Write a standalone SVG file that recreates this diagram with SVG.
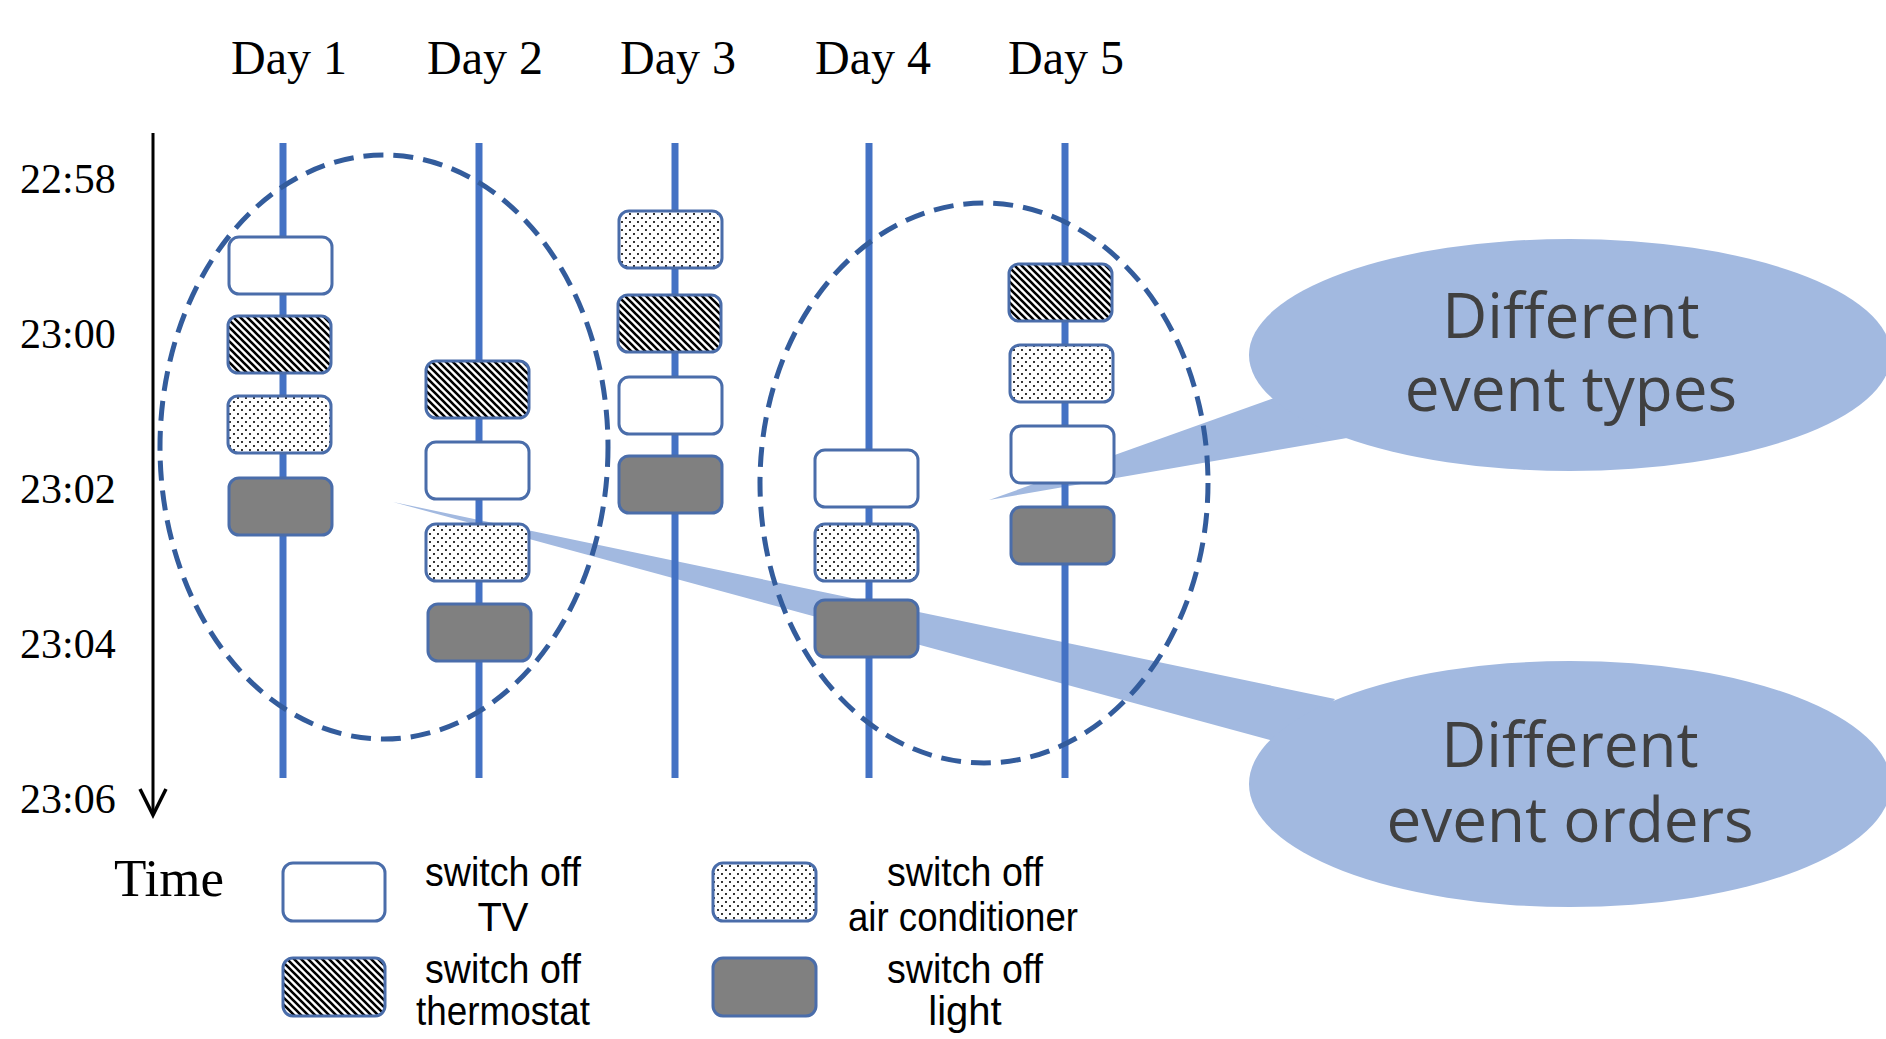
<svg xmlns="http://www.w3.org/2000/svg" width="1886" height="1039" viewBox="0 0 1886 1039">
<defs>
<pattern id="hatch" patternUnits="userSpaceOnUse" width="7" height="7">
<rect width="7" height="7" fill="#fff"/>
<path d="M-1,-1 L8,8 M-1,6 L1,8 M6,-1 L8,1" stroke="#000" stroke-width="2.6"/>
</pattern>
<pattern id="dots" patternUnits="userSpaceOnUse" width="8" height="8">
<rect width="8" height="8" fill="#fff"/>
<circle cx="2" cy="2" r="1.05" fill="#000"/>
<circle cx="6" cy="6" r="1.05" fill="#000"/>
</pattern>
</defs>
<style>
.serif{font-family:"Liberation Serif","Times New Roman",serif;fill:#000}
.day{font-size:48px;text-anchor:middle}
.tick{font-size:42px}
.leg{font-family:"Liberation Sans",Arial,sans-serif;font-size:40px;fill:#000;text-anchor:middle}
.call{fill:#A2B9E0}
.ctext{font-family:"Open Sans","Noto Sans",sans-serif;font-size:62px;fill:#404040;text-anchor:middle}
.tl{stroke:#4472C4;stroke-width:7}
.ev{stroke:#4A6DAA;stroke-width:3}
.tv{fill:#fff}
.th{fill:url(#hatch)}
.ac{fill:url(#dots)}
.li{fill:#808080}
.grp{fill:none;stroke:#335C9C;stroke-width:5;stroke-dasharray:20 10}
</style>
<rect width="1886" height="1039" fill="#fff"/>

<g id="callout-types">
<polygon class="call" points="989,500 1280,396 1360,420 1347,438"/>
<ellipse class="call" cx="1570" cy="355" rx="321" ry="116"/>
<text class="ctext" x="1571" y="338">Different</text>
<text class="ctext" x="1571" y="411">event types</text>
</g>
<g id="callout-orders">
<polygon class="call" points="393,502 1335,699 1300,740 1270,740"/>
<ellipse class="call" cx="1570" cy="784" rx="321" ry="123"/>
<text class="ctext" x="1570" y="767">Different</text>
<text class="ctext" x="1570" y="842">event orders</text>
</g>

<g id="connectors">
<line x1="153" y1="133" x2="153" y2="814" stroke="#000" stroke-width="3"/>
<polyline points="140,789 153,815 166,789" fill="none" stroke="#000" stroke-width="3.5"/>
<line class="tl" x1="283" y1="143" x2="283" y2="778"/>
<line class="tl" x1="479" y1="143" x2="479" y2="778"/>
<line class="tl" x1="675" y1="143" x2="675" y2="778"/>
<line class="tl" x1="869" y1="143" x2="869" y2="778"/>
<line class="tl" x1="1065" y1="143" x2="1065" y2="778"/>
</g>

<g id="day-labels">
<text class="serif day" x="289" y="74">Day 1</text>
<text class="serif day" x="485" y="74">Day 2</text>
<text class="serif day" x="678" y="74">Day 3</text>
<text class="serif day" x="873" y="74">Day 4</text>
<text class="serif day" x="1066" y="74">Day 5</text>
</g>
<g id="time-labels">
<text class="serif tick" x="20" y="193">22:58</text>
<text class="serif tick" x="20" y="348">23:00</text>
<text class="serif tick" x="20" y="503">23:02</text>
<text class="serif tick" x="20" y="658">23:04</text>
<text class="serif tick" x="20" y="813">23:06</text>
</g>

<g id="day1">
<rect id="d1-tv" class="ev tv" x="229" y="237" width="103" height="57" rx="10"/>
<rect id="d1-th" class="ev th" x="228" y="316" width="103" height="57" rx="10"/>
<rect id="d1-ac" class="ev ac" x="228" y="396" width="103" height="57" rx="10"/>
<rect id="d1-li" class="ev li" x="229" y="478" width="103" height="57" rx="10"/>
</g>
<g id="day2">
<rect id="d2-th" class="ev th" x="426" y="361" width="103" height="57" rx="10"/>
<rect id="d2-tv" class="ev tv" x="426" y="442" width="103" height="57" rx="10"/>
<rect id="d2-ac" class="ev ac" x="426" y="524" width="103" height="57" rx="10"/>
<rect id="d2-li" class="ev li" x="428" y="604" width="103" height="57" rx="10"/>
</g>
<g id="day3">
<rect id="d3-ac" class="ev ac" x="619" y="211" width="103" height="57" rx="10"/>
<rect id="d3-th" class="ev th" x="618" y="295" width="103" height="57" rx="10"/>
<rect id="d3-tv" class="ev tv" x="619" y="377" width="103" height="57" rx="10"/>
<rect id="d3-li" class="ev li" x="619" y="456" width="103" height="57" rx="10"/>
</g>
<g id="day4">
<rect id="d4-tv" class="ev tv" x="815" y="450" width="103" height="57" rx="10"/>
<rect id="d4-ac" class="ev ac" x="815" y="524" width="103" height="57" rx="10"/>
<rect id="d4-li" class="ev li" x="815" y="600" width="103" height="57" rx="10"/>
</g>
<g id="day5">
<rect id="d5-th" class="ev th" x="1009" y="264" width="103" height="57" rx="10"/>
<rect id="d5-ac" class="ev ac" x="1010" y="345" width="103" height="57" rx="10"/>
<rect id="d5-tv" class="ev tv" x="1011" y="426" width="103" height="57" rx="10"/>
<rect id="d5-li" class="ev li" x="1011" y="507" width="103" height="57" rx="10"/>
</g>

<g id="groups">
<ellipse class="grp" cx="384" cy="447" rx="224" ry="292"/>
<ellipse class="grp" cx="984" cy="483" rx="224" ry="280"/>
</g>

<g id="legend">
<text class="serif" x="114" y="896" font-size="53">Time</text>
<rect class="ev tv" x="283" y="863" width="102" height="58" rx="10"/>
<text class="leg" x="503" y="886" textLength="156" lengthAdjust="spacingAndGlyphs">switch off</text>
<text class="leg" x="503" y="931">TV</text>
<rect class="ev th" x="283" y="958" width="102" height="58" rx="10"/>
<text class="leg" x="503" y="983" textLength="156" lengthAdjust="spacingAndGlyphs">switch off</text>
<text class="leg" x="503" y="1025" textLength="174" lengthAdjust="spacingAndGlyphs">thermostat</text>
<rect class="ev ac" x="713" y="863" width="103" height="58" rx="10"/>
<text class="leg" x="965" y="886" textLength="156" lengthAdjust="spacingAndGlyphs">switch off</text>
<text class="leg" x="963" y="931" textLength="230" lengthAdjust="spacingAndGlyphs">air conditioner</text>
<rect class="ev li" x="713" y="958" width="103" height="58" rx="10"/>
<text class="leg" x="965" y="983" textLength="156" lengthAdjust="spacingAndGlyphs">switch off</text>
<text class="leg" x="965" y="1025">light</text>
</g>
</svg>
